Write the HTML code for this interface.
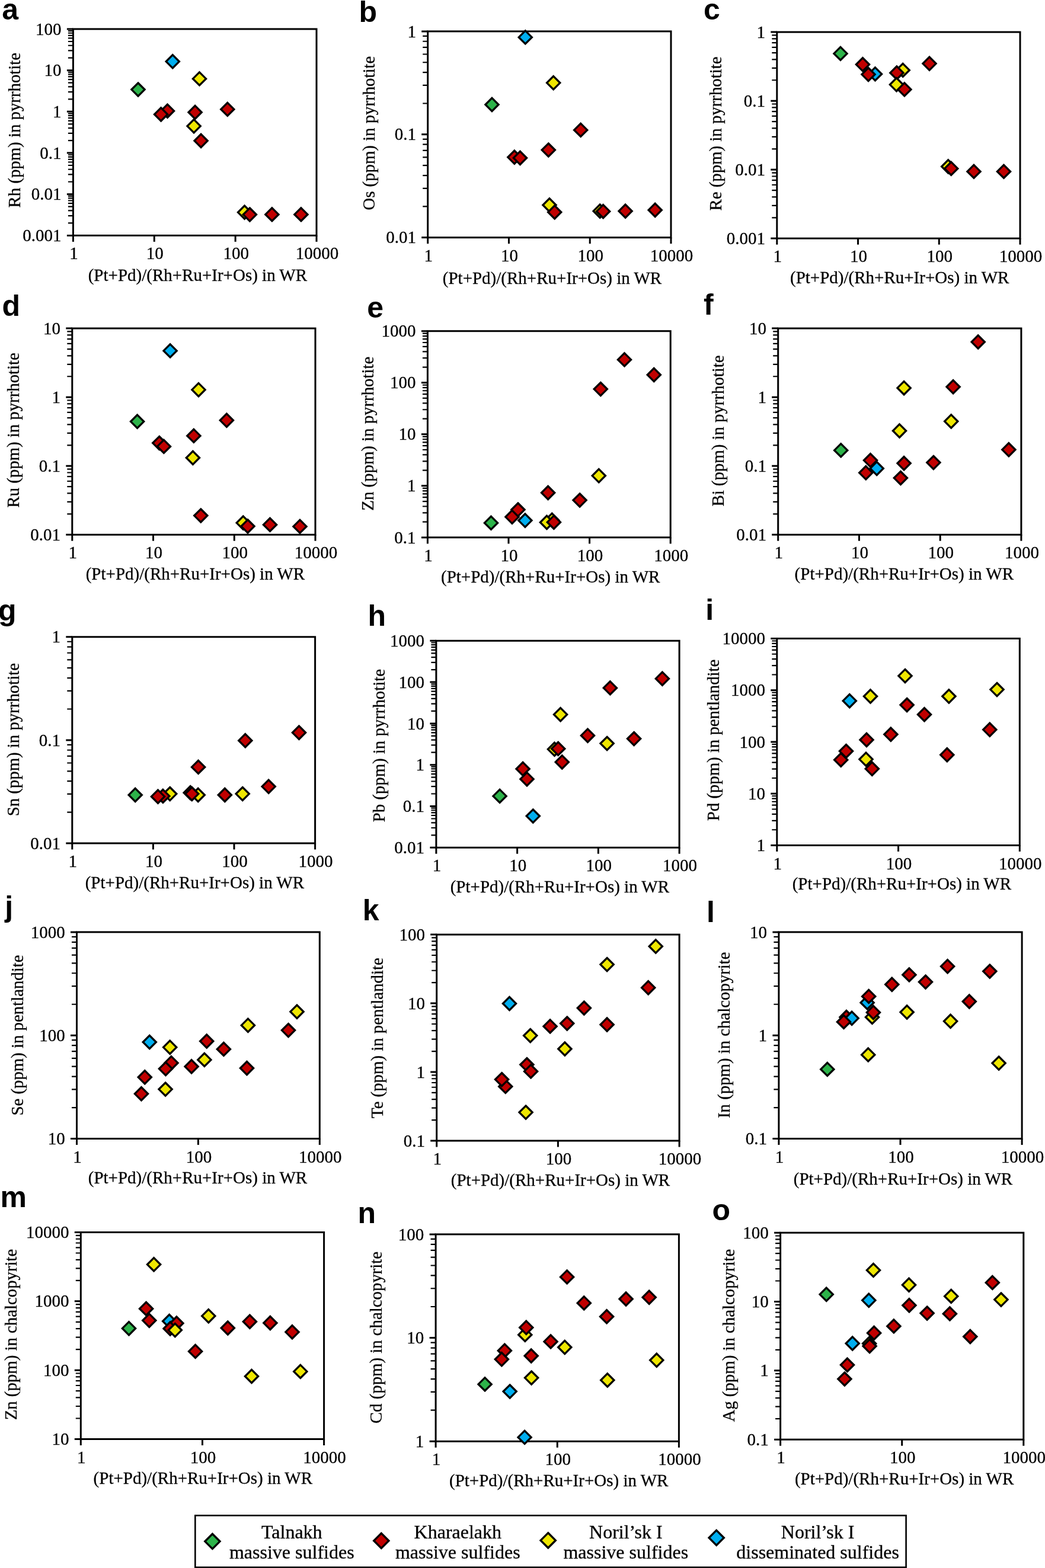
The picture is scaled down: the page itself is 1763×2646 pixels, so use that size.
<!DOCTYPE html>
<html><head><meta charset="utf-8"><title>Figure</title>
<style>
html,body{margin:0;padding:0;background:#fff;}
body{width:1763px;height:2646px;overflow:hidden;}
svg{display:block;}
.t{font-family:"Liberation Serif","Times New Roman",serif;font-size:29px;fill:#000;stroke:#000;stroke-width:0.3px;}
.tt{font-family:"Liberation Serif","Times New Roman",serif;font-size:28.8px;fill:#000;stroke:#000;stroke-width:0.3px;}
.tx{font-family:"Liberation Serif","Times New Roman",serif;font-size:29px;fill:#000;stroke:#000;stroke-width:0.3px;}
.lg{font-family:"Liberation Serif","Times New Roman",serif;font-size:32px;fill:#000;stroke:#000;stroke-width:0.3px;}
.lab{font-family:"Liberation Sans",Arial,sans-serif;font-weight:bold;font-size:50px;fill:#000;}
</style></head><body>
<svg width="1763" height="2646" viewBox="0 0 1763 2646">
<rect width="100%" height="100%" fill="#fff"/>
<path d="M114.9 97.7H123.4M114.9 85.43H123.4M114.9 76.73H123.4M114.9 69.98H123.4M114.9 64.46H123.4M114.9 59.79H123.4M114.9 55.75H123.4M114.9 52.19H123.4M114.9 167.38H123.4M114.9 155.11H123.4M114.9 146.41H123.4M114.9 139.66H123.4M114.9 134.14H123.4M114.9 129.47H123.4M114.9 125.43H123.4M114.9 121.87H123.4M114.9 237.06H123.4M114.9 224.79H123.4M114.9 216.09H123.4M114.9 209.34H123.4M114.9 203.82H123.4M114.9 199.15H123.4M114.9 195.11H123.4M114.9 191.55H123.4M114.9 306.74H123.4M114.9 294.47H123.4M114.9 285.77H123.4M114.9 279.02H123.4M114.9 273.5H123.4M114.9 268.83H123.4M114.9 264.79H123.4M114.9 261.23H123.4M114.9 376.42H123.4M114.9 364.15H123.4M114.9 355.45H123.4M114.9 348.7H123.4M114.9 343.18H123.4M114.9 338.51H123.4M114.9 334.47H123.4M114.9 330.91H123.4" stroke="#000" stroke-width="2.2"/>
<path d="M112.9 49H123.4M112.9 118.68H123.4M112.9 188.36H123.4M112.9 258.04H123.4M112.9 327.72H123.4M112.9 397.4H123.4" stroke="#000" stroke-width="3.0"/>
<path d="M123.4 397.4V407.9M260.27 397.4V407.9M397.13 397.4V407.9M534 397.4V407.9" stroke="#000" stroke-width="3.0"/>
<rect x="123.4" y="49" width="410.6" height="348.4" fill="none" stroke="#000" stroke-width="3.0"/>
<text class="t" x="103.6" y="58.6" text-anchor="end">100</text>
<text class="t" x="103.6" y="128.28" text-anchor="end">10</text>
<text class="t" x="103.6" y="197.96" text-anchor="end">1</text>
<text class="t" x="103.6" y="267.64" text-anchor="end">0.1</text>
<text class="t" x="103.6" y="337.32" text-anchor="end">0.01</text>
<text class="t" x="103.6" y="407" text-anchor="end">0.001</text>
<text class="t" x="124.4" y="437.4" text-anchor="middle">1</text>
<text class="t" x="261.27" y="437.4" text-anchor="middle">10</text>
<text class="t" x="398.13" y="437.4" text-anchor="middle">100</text>
<text class="t" x="535" y="437.4" text-anchor="middle">10000</text>
<text class="tx" x="148.7" y="473.9">(Pt+Pd)/(Rh+Ru+Ir+Os) in WR</text>
<text class="tt" transform="translate(34 219.7) rotate(-90)" text-anchor="middle">Rh (ppm) in pyrrhotite</text>
<path d="M291.3 92.7L302.4 103.8L291.3 114.9L280.2 103.8Z" fill="#00aeef" stroke="#000" stroke-width="3.3" stroke-linejoin="miter"/>
<path d="M336.5 121.8L347.6 132.9L336.5 144L325.4 132.9Z" fill="#eee600" stroke="#000" stroke-width="3.3" stroke-linejoin="miter"/>
<path d="M233 140L244.1 151.1L233 162.2L221.9 151.1Z" fill="#2db34a" stroke="#000" stroke-width="3.3" stroke-linejoin="miter"/>
<path d="M282.5 176.1L293.6 187.2L282.5 198.3L271.4 187.2Z" fill="#c00000" stroke="#000" stroke-width="3.3" stroke-linejoin="miter"/>
<path d="M271.6 181.9L282.7 193L271.6 204.1L260.5 193Z" fill="#c00000" stroke="#000" stroke-width="3.3" stroke-linejoin="miter"/>
<path d="M329.1 178.4L340.2 189.5L329.1 200.6L318 189.5Z" fill="#c00000" stroke="#000" stroke-width="3.3" stroke-linejoin="miter"/>
<path d="M383.8 173.3L394.9 184.4L383.8 195.5L372.7 184.4Z" fill="#c00000" stroke="#000" stroke-width="3.3" stroke-linejoin="miter"/>
<path d="M327.1 201.7L338.2 212.8L327.1 223.9L316 212.8Z" fill="#eee600" stroke="#000" stroke-width="3.3" stroke-linejoin="miter"/>
<path d="M339.1 226.4L350.2 237.5L339.1 248.6L328 237.5Z" fill="#c00000" stroke="#000" stroke-width="3.3" stroke-linejoin="miter"/>
<path d="M412.6 347.2L423.7 358.3L412.6 369.4L401.5 358.3Z" fill="#eee600" stroke="#000" stroke-width="3.3" stroke-linejoin="miter"/>
<path d="M421.4 351L432.5 362.1L421.4 373.2L410.3 362.1Z" fill="#c00000" stroke="#000" stroke-width="3.3" stroke-linejoin="miter"/>
<path d="M458.9 350.8L470 361.9L458.9 373L447.8 361.9Z" fill="#c00000" stroke="#000" stroke-width="3.3" stroke-linejoin="miter"/>
<path d="M507.9 350.8L519 361.9L507.9 373L496.8 361.9Z" fill="#c00000" stroke="#000" stroke-width="3.3" stroke-linejoin="miter"/>
<text class="lab" transform="translate(3.2 32.9) scale(1 1)">a</text>
<path d="M713.2 174.49H721.7M713.2 143.85H721.7M713.2 122.12H721.7M713.2 105.26H721.7M713.2 91.49H721.7M713.2 79.85H721.7M713.2 69.76H721.7M713.2 60.86H721.7M713.2 348.44H721.7M713.2 317.8H721.7M713.2 296.07H721.7M713.2 279.21H721.7M713.2 265.44H721.7M713.2 253.8H721.7M713.2 243.71H721.7M713.2 234.81H721.7" stroke="#000" stroke-width="2.2"/>
<path d="M711.2 52.9H721.7M711.2 226.85H721.7M711.2 400.8H721.7" stroke="#000" stroke-width="3.0"/>
<path d="M721.7 400.8V411.3M858.47 400.8V411.3M995.23 400.8V411.3M1132 400.8V411.3" stroke="#000" stroke-width="3.0"/>
<rect x="721.7" y="52.9" width="410.3" height="347.9" fill="none" stroke="#000" stroke-width="3.0"/>
<text class="t" x="701.9" y="62.5" text-anchor="end">1</text>
<text class="t" x="701.9" y="236.45" text-anchor="end">0.1</text>
<text class="t" x="701.9" y="410.4" text-anchor="end">0.01</text>
<text class="t" x="722.7" y="440.8" text-anchor="middle">1</text>
<text class="t" x="859.47" y="440.8" text-anchor="middle">10</text>
<text class="t" x="996.23" y="440.8" text-anchor="middle">100</text>
<text class="t" x="1133" y="440.8" text-anchor="middle">10000</text>
<text class="tx" x="746.8" y="478.9">(Pt+Pd)/(Rh+Ru+Ir+Os) in WR</text>
<text class="tt" transform="translate(631.5 224.7) rotate(-90)" text-anchor="middle">Os (ppm) in pyrrhotite</text>
<path d="M886.3 51.8L897.4 62.9L886.3 74L875.2 62.9Z" fill="#00aeef" stroke="#000" stroke-width="3.3" stroke-linejoin="miter"/>
<path d="M933.7 128.7L944.8 139.8L933.7 150.9L922.6 139.8Z" fill="#eee600" stroke="#000" stroke-width="3.3" stroke-linejoin="miter"/>
<path d="M830 165.4L841.1 176.5L830 187.6L818.9 176.5Z" fill="#2db34a" stroke="#000" stroke-width="3.3" stroke-linejoin="miter"/>
<path d="M979.7 208.3L990.8 219.4L979.7 230.5L968.6 219.4Z" fill="#c00000" stroke="#000" stroke-width="3.3" stroke-linejoin="miter"/>
<path d="M925.3 242L936.4 253.1L925.3 264.2L914.2 253.1Z" fill="#c00000" stroke="#000" stroke-width="3.3" stroke-linejoin="miter"/>
<path d="M867.9 254.2L879 265.3L867.9 276.4L856.8 265.3Z" fill="#c00000" stroke="#000" stroke-width="3.3" stroke-linejoin="miter"/>
<path d="M877.5 255.4L888.6 266.5L877.5 277.6L866.4 266.5Z" fill="#c00000" stroke="#000" stroke-width="3.3" stroke-linejoin="miter"/>
<path d="M927 334.9L938.1 346L927 357.1L915.9 346Z" fill="#eee600" stroke="#000" stroke-width="3.3" stroke-linejoin="miter"/>
<path d="M935.7 346.9L946.8 358L935.7 369.1L924.6 358Z" fill="#c00000" stroke="#000" stroke-width="3.3" stroke-linejoin="miter"/>
<path d="M1012.2 345.1L1023.3 356.2L1012.2 367.3L1001.1 356.2Z" fill="#eee600" stroke="#000" stroke-width="3.3" stroke-linejoin="miter"/>
<path d="M1017.6 345.6L1028.7 356.7L1017.6 367.8L1006.5 356.7Z" fill="#c00000" stroke="#000" stroke-width="3.3" stroke-linejoin="miter"/>
<path d="M1055.1 345.1L1066.2 356.2L1055.1 367.3L1044 356.2Z" fill="#c00000" stroke="#000" stroke-width="3.3" stroke-linejoin="miter"/>
<path d="M1105.2 343.4L1116.3 354.5L1105.2 365.6L1094.1 354.5Z" fill="#c00000" stroke="#000" stroke-width="3.3" stroke-linejoin="miter"/>
<text class="lab" transform="translate(605.4 36.7) scale(1 1)">b</text>
<path d="M1302.3 135.23H1310.8M1302.3 114.79H1310.8M1302.3 100.29H1310.8M1302.3 89.04H1310.8M1302.3 79.85H1310.8M1302.3 72.08H1310.8M1302.3 65.35H1310.8M1302.3 59.41H1310.8M1302.3 251.29H1310.8M1302.3 230.86H1310.8M1302.3 216.35H1310.8M1302.3 205.11H1310.8M1302.3 195.92H1310.8M1302.3 188.15H1310.8M1302.3 181.41H1310.8M1302.3 175.48H1310.8M1302.3 367.36H1310.8M1302.3 346.92H1310.8M1302.3 332.42H1310.8M1302.3 321.17H1310.8M1302.3 311.98H1310.8M1302.3 304.21H1310.8M1302.3 297.48H1310.8M1302.3 291.54H1310.8" stroke="#000" stroke-width="2.2"/>
<path d="M1300.3 54.1H1310.8M1300.3 170.17H1310.8M1300.3 286.23H1310.8M1300.3 402.3H1310.8" stroke="#000" stroke-width="3.0"/>
<path d="M1310.8 402.3V412.8M1447.53 402.3V412.8M1584.27 402.3V412.8M1721 402.3V412.8" stroke="#000" stroke-width="3.0"/>
<rect x="1310.8" y="54.1" width="410.2" height="348.2" fill="none" stroke="#000" stroke-width="3.0"/>
<text class="t" x="1291" y="63.7" text-anchor="end">1</text>
<text class="t" x="1291" y="179.77" text-anchor="end">0.1</text>
<text class="t" x="1291" y="295.83" text-anchor="end">0.01</text>
<text class="t" x="1291" y="411.9" text-anchor="end">0.001</text>
<text class="t" x="1311.8" y="442.3" text-anchor="middle">1</text>
<text class="t" x="1448.53" y="442.3" text-anchor="middle">10</text>
<text class="t" x="1585.27" y="442.3" text-anchor="middle">100</text>
<text class="t" x="1722" y="442.3" text-anchor="middle">10000</text>
<text class="tx" x="1333" y="477.7">(Pt+Pd)/(Rh+Ru+Ir+Os) in WR</text>
<text class="tt" transform="translate(1216.7 225.5) rotate(-90)" text-anchor="middle">Re (ppm) in pyrrhotite</text>
<path d="M1418 79.3L1429.1 90.4L1418 101.5L1406.9 90.4Z" fill="#2db34a" stroke="#000" stroke-width="3.3" stroke-linejoin="miter"/>
<path d="M1455.5 97.7L1466.6 108.8L1455.5 119.9L1444.4 108.8Z" fill="#c00000" stroke="#000" stroke-width="3.3" stroke-linejoin="miter"/>
<path d="M1568 96.2L1579.1 107.3L1568 118.4L1556.9 107.3Z" fill="#c00000" stroke="#000" stroke-width="3.3" stroke-linejoin="miter"/>
<path d="M1523.2 107.3L1534.3 118.4L1523.2 129.5L1512.1 118.4Z" fill="#eee600" stroke="#000" stroke-width="3.3" stroke-linejoin="miter"/>
<path d="M1512.9 111.8L1524 122.9L1512.9 134L1501.8 122.9Z" fill="#c00000" stroke="#000" stroke-width="3.3" stroke-linejoin="miter"/>
<path d="M1476.5 113.8L1487.6 124.9L1476.5 136L1465.4 124.9Z" fill="#00aeef" stroke="#000" stroke-width="3.3" stroke-linejoin="miter"/>
<path d="M1465 114.5L1476.1 125.6L1465 136.7L1453.9 125.6Z" fill="#c00000" stroke="#000" stroke-width="3.3" stroke-linejoin="miter"/>
<path d="M1512.5 131.7L1523.6 142.8L1512.5 153.9L1501.4 142.8Z" fill="#eee600" stroke="#000" stroke-width="3.3" stroke-linejoin="miter"/>
<path d="M1525.9 139.8L1537 150.9L1525.9 162L1514.8 150.9Z" fill="#c00000" stroke="#000" stroke-width="3.3" stroke-linejoin="miter"/>
<path d="M1599.7 269.9L1610.8 281L1599.7 292.1L1588.6 281Z" fill="#eee600" stroke="#000" stroke-width="3.3" stroke-linejoin="miter"/>
<path d="M1604.7 273.3L1615.8 284.4L1604.7 295.5L1593.6 284.4Z" fill="#c00000" stroke="#000" stroke-width="3.3" stroke-linejoin="miter"/>
<path d="M1643 278.3L1654.1 289.4L1643 300.5L1631.9 289.4Z" fill="#c00000" stroke="#000" stroke-width="3.3" stroke-linejoin="miter"/>
<path d="M1693.5 278.3L1704.6 289.4L1693.5 300.5L1682.4 289.4Z" fill="#c00000" stroke="#000" stroke-width="3.3" stroke-linejoin="miter"/>
<text class="lab" transform="translate(1187 32.9) scale(1 1)">c</text>
<path d="M113.3 635.23H121.8M113.3 614.79H121.8M113.3 600.29H121.8M113.3 589.04H121.8M113.3 579.85H121.8M113.3 572.08H121.8M113.3 565.35H121.8M113.3 559.41H121.8M113.3 751.29H121.8M113.3 730.86H121.8M113.3 716.35H121.8M113.3 705.11H121.8M113.3 695.92H121.8M113.3 688.15H121.8M113.3 681.41H121.8M113.3 675.48H121.8M113.3 867.36H121.8M113.3 846.92H121.8M113.3 832.42H121.8M113.3 821.17H121.8M113.3 811.98H121.8M113.3 804.21H121.8M113.3 797.48H121.8M113.3 791.54H121.8" stroke="#000" stroke-width="2.2"/>
<path d="M111.3 554.1H121.8M111.3 670.17H121.8M111.3 786.23H121.8M111.3 902.3H121.8" stroke="#000" stroke-width="3.0"/>
<path d="M121.8 902.3V912.8M258.53 902.3V912.8M395.27 902.3V912.8M532 902.3V912.8" stroke="#000" stroke-width="3.0"/>
<rect x="121.8" y="554.1" width="410.2" height="348.2" fill="none" stroke="#000" stroke-width="3.0"/>
<text class="t" x="102" y="563.7" text-anchor="end">10</text>
<text class="t" x="102" y="679.77" text-anchor="end">1</text>
<text class="t" x="102" y="795.83" text-anchor="end">0.1</text>
<text class="t" x="102" y="911.9" text-anchor="end">0.01</text>
<text class="t" x="122.8" y="942.3" text-anchor="middle">1</text>
<text class="t" x="259.53" y="942.3" text-anchor="middle">10</text>
<text class="t" x="396.27" y="942.3" text-anchor="middle">100</text>
<text class="t" x="533" y="942.3" text-anchor="middle">10000</text>
<text class="tx" x="144.7" y="977.7">(Pt+Pd)/(Rh+Ru+Ir+Os) in WR</text>
<text class="tt" transform="translate(32.4 725.9) rotate(-90)" text-anchor="middle">Ru (ppm) in pyrrhotite</text>
<path d="M287.1 580.8L298.2 591.9L287.1 603L276 591.9Z" fill="#00aeef" stroke="#000" stroke-width="3.3" stroke-linejoin="miter"/>
<path d="M335 646.6L346.1 657.7L335 668.8L323.9 657.7Z" fill="#eee600" stroke="#000" stroke-width="3.3" stroke-linejoin="miter"/>
<path d="M231.6 700.2L242.7 711.3L231.6 722.4L220.5 711.3Z" fill="#2db34a" stroke="#000" stroke-width="3.3" stroke-linejoin="miter"/>
<path d="M382.4 698.2L393.5 709.3L382.4 720.4L371.3 709.3Z" fill="#c00000" stroke="#000" stroke-width="3.3" stroke-linejoin="miter"/>
<path d="M326.9 724.3L338 735.4L326.9 746.5L315.8 735.4Z" fill="#c00000" stroke="#000" stroke-width="3.3" stroke-linejoin="miter"/>
<path d="M268.8 736.5L279.9 747.6L268.8 758.7L257.7 747.6Z" fill="#c00000" stroke="#000" stroke-width="3.3" stroke-linejoin="miter"/>
<path d="M276.4 742.3L287.5 753.4L276.4 764.5L265.3 753.4Z" fill="#c00000" stroke="#000" stroke-width="3.3" stroke-linejoin="miter"/>
<path d="M325.4 761.4L336.5 772.5L325.4 783.6L314.3 772.5Z" fill="#eee600" stroke="#000" stroke-width="3.3" stroke-linejoin="miter"/>
<path d="M338.8 859L349.9 870.1L338.8 881.2L327.7 870.1Z" fill="#c00000" stroke="#000" stroke-width="3.3" stroke-linejoin="miter"/>
<path d="M410.3 871.2L421.4 882.3L410.3 893.4L399.2 882.3Z" fill="#eee600" stroke="#000" stroke-width="3.3" stroke-linejoin="miter"/>
<path d="M418 877L429.1 888.1L418 899.2L406.9 888.1Z" fill="#c00000" stroke="#000" stroke-width="3.3" stroke-linejoin="miter"/>
<path d="M455.5 874.3L466.6 885.4L455.5 896.5L444.4 885.4Z" fill="#c00000" stroke="#000" stroke-width="3.3" stroke-linejoin="miter"/>
<path d="M506 877.3L517.1 888.4L506 899.5L494.9 888.4Z" fill="#c00000" stroke="#000" stroke-width="3.3" stroke-linejoin="miter"/>
<text class="lab" transform="translate(3.4 532.5) scale(1 1)">d</text>
<path d="M712.9 619.55H721.4M712.9 604.22H721.4M712.9 593.34H721.4M712.9 584.9H721.4M712.9 578.01H721.4M712.9 572.18H721.4M712.9 567.14H721.4M712.9 562.68H721.4M712.9 706.6H721.4M712.9 691.27H721.4M712.9 680.39H721.4M712.9 671.95H721.4M712.9 665.06H721.4M712.9 659.23H721.4M712.9 654.19H721.4M712.9 649.73H721.4M712.9 793.65H721.4M712.9 778.32H721.4M712.9 767.44H721.4M712.9 759H721.4M712.9 752.11H721.4M712.9 746.28H721.4M712.9 741.24H721.4M712.9 736.78H721.4M712.9 880.7H721.4M712.9 865.37H721.4M712.9 854.49H721.4M712.9 846.05H721.4M712.9 839.16H721.4M712.9 833.33H721.4M712.9 828.29H721.4M712.9 823.83H721.4" stroke="#000" stroke-width="2.2"/>
<path d="M710.9 558.7H721.4M710.9 645.75H721.4M710.9 732.8H721.4M710.9 819.85H721.4M710.9 906.9H721.4" stroke="#000" stroke-width="3.0"/>
<path d="M721.4 906.9V917.4M858 906.9V917.4M994.6 906.9V917.4M1131.2 906.9V917.4" stroke="#000" stroke-width="3.0"/>
<rect x="721.4" y="558.7" width="409.8" height="348.2" fill="none" stroke="#000" stroke-width="3.0"/>
<text class="t" x="701.6" y="568.3" text-anchor="end">1000</text>
<text class="t" x="701.6" y="655.35" text-anchor="end">100</text>
<text class="t" x="701.6" y="742.4" text-anchor="end">10</text>
<text class="t" x="701.6" y="829.45" text-anchor="end">1</text>
<text class="t" x="701.6" y="916.5" text-anchor="end">0.1</text>
<text class="t" x="722.4" y="946.9" text-anchor="middle">1</text>
<text class="t" x="859" y="946.9" text-anchor="middle">10</text>
<text class="t" x="995.6" y="946.9" text-anchor="middle">100</text>
<text class="t" x="1132.2" y="946.9" text-anchor="middle">1000</text>
<text class="tx" x="744" y="982.5">(Pt+Pd)/(Rh+Ru+Ir+Os) in WR</text>
<text class="tt" transform="translate(630.1 731.7) rotate(-90)" text-anchor="middle">Zn (ppm) in pyrrhotite</text>
<path d="M1053.5 595.8L1064.6 606.9L1053.5 618L1042.4 606.9Z" fill="#c00000" stroke="#000" stroke-width="3.3" stroke-linejoin="miter"/>
<path d="M1103.3 621.4L1114.4 632.5L1103.3 643.6L1092.2 632.5Z" fill="#c00000" stroke="#000" stroke-width="3.3" stroke-linejoin="miter"/>
<path d="M1013.3 645.5L1024.4 656.6L1013.3 667.7L1002.2 656.6Z" fill="#c00000" stroke="#000" stroke-width="3.3" stroke-linejoin="miter"/>
<path d="M1010.3 791.7L1021.4 802.8L1010.3 813.9L999.2 802.8Z" fill="#eee600" stroke="#000" stroke-width="3.3" stroke-linejoin="miter"/>
<path d="M924.6 820.4L935.7 831.5L924.6 842.6L913.5 831.5Z" fill="#c00000" stroke="#000" stroke-width="3.3" stroke-linejoin="miter"/>
<path d="M978.1 833L989.2 844.1L978.1 855.2L967 844.1Z" fill="#c00000" stroke="#000" stroke-width="3.3" stroke-linejoin="miter"/>
<path d="M864 861.2L875.1 872.3L864 883.4L852.9 872.3Z" fill="#c00000" stroke="#000" stroke-width="3.3" stroke-linejoin="miter"/>
<path d="M873.9 849L885 860.1L873.9 871.2L862.8 860.1Z" fill="#c00000" stroke="#000" stroke-width="3.3" stroke-linejoin="miter"/>
<path d="M885.9 867.2L897 878.3L885.9 889.4L874.8 878.3Z" fill="#00aeef" stroke="#000" stroke-width="3.3" stroke-linejoin="miter"/>
<path d="M828.5 871.3L839.6 882.4L828.5 893.5L817.4 882.4Z" fill="#2db34a" stroke="#000" stroke-width="3.3" stroke-linejoin="miter"/>
<path d="M931.3 866.3L942.4 877.4L931.3 888.5L920.2 877.4Z" fill="#eee600" stroke="#000" stroke-width="3.3" stroke-linejoin="miter"/>
<path d="M922.5 870.4L933.6 881.5L922.5 892.6L911.4 881.5Z" fill="#eee600" stroke="#000" stroke-width="3.3" stroke-linejoin="miter"/>
<path d="M934.4 870.1L945.5 881.2L934.4 892.3L923.3 881.2Z" fill="#c00000" stroke="#000" stroke-width="3.3" stroke-linejoin="miter"/>
<text class="lab" transform="translate(619.2 536.4) scale(1 1)">e</text>
<path d="M1304.2 635.23H1312.7M1304.2 614.79H1312.7M1304.2 600.29H1312.7M1304.2 589.04H1312.7M1304.2 579.85H1312.7M1304.2 572.08H1312.7M1304.2 565.35H1312.7M1304.2 559.41H1312.7M1304.2 751.29H1312.7M1304.2 730.86H1312.7M1304.2 716.35H1312.7M1304.2 705.11H1312.7M1304.2 695.92H1312.7M1304.2 688.15H1312.7M1304.2 681.41H1312.7M1304.2 675.48H1312.7M1304.2 867.36H1312.7M1304.2 846.92H1312.7M1304.2 832.42H1312.7M1304.2 821.17H1312.7M1304.2 811.98H1312.7M1304.2 804.21H1312.7M1304.2 797.48H1312.7M1304.2 791.54H1312.7" stroke="#000" stroke-width="2.2"/>
<path d="M1302.2 554.1H1312.7M1302.2 670.17H1312.7M1302.2 786.23H1312.7M1302.2 902.3H1312.7" stroke="#000" stroke-width="3.0"/>
<path d="M1312.7 902.3V912.8M1449.43 902.3V912.8M1586.17 902.3V912.8M1722.9 902.3V912.8" stroke="#000" stroke-width="3.0"/>
<rect x="1312.7" y="554.1" width="410.2" height="348.2" fill="none" stroke="#000" stroke-width="3.0"/>
<text class="t" x="1292.9" y="563.7" text-anchor="end">10</text>
<text class="t" x="1292.9" y="679.77" text-anchor="end">1</text>
<text class="t" x="1292.9" y="795.83" text-anchor="end">0.1</text>
<text class="t" x="1292.9" y="911.9" text-anchor="end">0.01</text>
<text class="t" x="1313.7" y="942.3" text-anchor="middle">1</text>
<text class="t" x="1450.43" y="942.3" text-anchor="middle">10</text>
<text class="t" x="1587.17" y="942.3" text-anchor="middle">100</text>
<text class="t" x="1723.9" y="942.3" text-anchor="middle">1000</text>
<text class="tx" x="1340.6" y="977.7">(Pt+Pd)/(Rh+Ru+Ir+Os) in WR</text>
<text class="tt" transform="translate(1221 727) rotate(-90)" text-anchor="middle">Bi (ppm) in pyrrhotite</text>
<path d="M1650.2 565.9L1661.3 577L1650.2 588.1L1639.1 577Z" fill="#c00000" stroke="#000" stroke-width="3.3" stroke-linejoin="miter"/>
<path d="M1525.1 643.6L1536.2 654.7L1525.1 665.8L1514 654.7Z" fill="#eee600" stroke="#000" stroke-width="3.3" stroke-linejoin="miter"/>
<path d="M1608.1 641.7L1619.2 652.8L1608.1 663.9L1597 652.8Z" fill="#c00000" stroke="#000" stroke-width="3.3" stroke-linejoin="miter"/>
<path d="M1604.7 699.9L1615.8 711L1604.7 722.1L1593.6 711Z" fill="#eee600" stroke="#000" stroke-width="3.3" stroke-linejoin="miter"/>
<path d="M1517.5 715.9L1528.6 727L1517.5 738.1L1506.4 727Z" fill="#eee600" stroke="#000" stroke-width="3.3" stroke-linejoin="miter"/>
<path d="M1418.7 748.8L1429.8 759.9L1418.7 771L1407.6 759.9Z" fill="#2db34a" stroke="#000" stroke-width="3.3" stroke-linejoin="miter"/>
<path d="M1701.9 747.7L1713 758.8L1701.9 769.9L1690.8 758.8Z" fill="#c00000" stroke="#000" stroke-width="3.3" stroke-linejoin="miter"/>
<path d="M1468.5 765.7L1479.6 776.8L1468.5 787.9L1457.4 776.8Z" fill="#c00000" stroke="#000" stroke-width="3.3" stroke-linejoin="miter"/>
<path d="M1525.1 770.7L1536.2 781.8L1525.1 792.9L1514 781.8Z" fill="#c00000" stroke="#000" stroke-width="3.3" stroke-linejoin="miter"/>
<path d="M1574.9 769.5L1586 780.6L1574.9 791.7L1563.8 780.6Z" fill="#c00000" stroke="#000" stroke-width="3.3" stroke-linejoin="miter"/>
<path d="M1479.2 779.4L1490.3 790.5L1479.2 801.6L1468.1 790.5Z" fill="#00aeef" stroke="#000" stroke-width="3.3" stroke-linejoin="miter"/>
<path d="M1460.8 786.7L1471.9 797.8L1460.8 808.9L1449.7 797.8Z" fill="#c00000" stroke="#000" stroke-width="3.3" stroke-linejoin="miter"/>
<path d="M1519.4 795.5L1530.5 806.6L1519.4 817.7L1508.3 806.6Z" fill="#c00000" stroke="#000" stroke-width="3.3" stroke-linejoin="miter"/>
<text class="lab" transform="translate(1187 530.6) scale(1 1)">f</text>
<path d="M113.3 1196.49H121.8M113.3 1165.83H121.8M113.3 1144.08H121.8M113.3 1127.21H121.8M113.3 1113.42H121.8M113.3 1101.77H121.8M113.3 1091.67H121.8M113.3 1082.77H121.8M113.3 1370.59H121.8M113.3 1339.93H121.8M113.3 1318.18H121.8M113.3 1301.31H121.8M113.3 1287.52H121.8M113.3 1275.87H121.8M113.3 1265.77H121.8M113.3 1256.87H121.8" stroke="#000" stroke-width="2.2"/>
<path d="M111.3 1074.8H121.8M111.3 1248.9H121.8M111.3 1423H121.8" stroke="#000" stroke-width="3.0"/>
<path d="M121.8 1423V1433.5M258.4 1423V1433.5M395 1423V1433.5M531.6 1423V1433.5" stroke="#000" stroke-width="3.0"/>
<rect x="121.8" y="1074.8" width="409.8" height="348.2" fill="none" stroke="#000" stroke-width="3.0"/>
<text class="t" x="102" y="1084.4" text-anchor="end">1</text>
<text class="t" x="102" y="1258.5" text-anchor="end">0.1</text>
<text class="t" x="102" y="1432.6" text-anchor="end">0.01</text>
<text class="t" x="122.8" y="1463" text-anchor="middle">1</text>
<text class="t" x="259.4" y="1463" text-anchor="middle">10</text>
<text class="t" x="396" y="1463" text-anchor="middle">100</text>
<text class="t" x="532.6" y="1463" text-anchor="middle">1000</text>
<text class="tx" x="143.7" y="1498.7">(Pt+Pd)/(Rh+Ru+Ir+Os) in WR</text>
<text class="tt" transform="translate(32.4 1248.2) rotate(-90)" text-anchor="middle">Sn (ppm) in pyrrhotite</text>
<path d="M504.5 1225.2L515.6 1236.3L504.5 1247.4L493.4 1236.3Z" fill="#c00000" stroke="#000" stroke-width="3.3" stroke-linejoin="miter"/>
<path d="M413.8 1238.6L424.9 1249.7L413.8 1260.8L402.7 1249.7Z" fill="#c00000" stroke="#000" stroke-width="3.3" stroke-linejoin="miter"/>
<path d="M334.6 1283.3L345.7 1294.4L334.6 1305.5L323.5 1294.4Z" fill="#c00000" stroke="#000" stroke-width="3.3" stroke-linejoin="miter"/>
<path d="M453.2 1316.2L464.3 1327.3L453.2 1338.4L442.1 1327.3Z" fill="#c00000" stroke="#000" stroke-width="3.3" stroke-linejoin="miter"/>
<path d="M228.2 1330.4L239.3 1341.5L228.2 1352.6L217.1 1341.5Z" fill="#2db34a" stroke="#000" stroke-width="3.3" stroke-linejoin="miter"/>
<path d="M286.7 1328.5L297.8 1339.6L286.7 1350.7L275.6 1339.6Z" fill="#eee600" stroke="#000" stroke-width="3.3" stroke-linejoin="miter"/>
<path d="M274.9 1332.3L286 1343.4L274.9 1354.5L263.8 1343.4Z" fill="#c00000" stroke="#000" stroke-width="3.3" stroke-linejoin="miter"/>
<path d="M266.5 1333.1L277.6 1344.2L266.5 1355.3L255.4 1344.2Z" fill="#c00000" stroke="#000" stroke-width="3.3" stroke-linejoin="miter"/>
<path d="M334.2 1330.4L345.3 1341.5L334.2 1352.6L323.1 1341.5Z" fill="#eee600" stroke="#000" stroke-width="3.3" stroke-linejoin="miter"/>
<path d="M321.2 1326.6L332.3 1337.7L321.2 1348.8L310.1 1337.7Z" fill="#c00000" stroke="#000" stroke-width="3.3" stroke-linejoin="miter"/>
<path d="M323.8 1328.5L334.9 1339.6L323.8 1350.7L312.7 1339.6Z" fill="#c00000" stroke="#000" stroke-width="3.3" stroke-linejoin="miter"/>
<path d="M379.3 1330.4L390.4 1341.5L379.3 1352.6L368.2 1341.5Z" fill="#c00000" stroke="#000" stroke-width="3.3" stroke-linejoin="miter"/>
<path d="M409.2 1328.5L420.3 1339.6L409.2 1350.7L398.1 1339.6Z" fill="#eee600" stroke="#000" stroke-width="3.3" stroke-linejoin="miter"/>
<text class="lab" transform="translate(-3 1046.6) scale(1 1)">g</text>
<path d="M727.4 1130.09H735.9M727.4 1117.8H735.9M727.4 1109.08H735.9M727.4 1102.31H735.9M727.4 1096.79H735.9M727.4 1092.11H735.9M727.4 1088.06H735.9M727.4 1084.49H735.9M727.4 1199.89H735.9M727.4 1187.6H735.9M727.4 1178.88H735.9M727.4 1172.11H735.9M727.4 1166.59H735.9M727.4 1161.91H735.9M727.4 1157.86H735.9M727.4 1154.29H735.9M727.4 1269.69H735.9M727.4 1257.4H735.9M727.4 1248.68H735.9M727.4 1241.91H735.9M727.4 1236.39H735.9M727.4 1231.71H735.9M727.4 1227.66H735.9M727.4 1224.09H735.9M727.4 1339.49H735.9M727.4 1327.2H735.9M727.4 1318.48H735.9M727.4 1311.71H735.9M727.4 1306.19H735.9M727.4 1301.51H735.9M727.4 1297.46H735.9M727.4 1293.89H735.9M727.4 1409.29H735.9M727.4 1397H735.9M727.4 1388.28H735.9M727.4 1381.51H735.9M727.4 1375.99H735.9M727.4 1371.31H735.9M727.4 1367.26H735.9M727.4 1363.69H735.9" stroke="#000" stroke-width="2.2"/>
<path d="M725.4 1081.3H735.9M725.4 1151.1H735.9M725.4 1220.9H735.9M725.4 1290.7H735.9M725.4 1360.5H735.9M725.4 1430.3H735.9" stroke="#000" stroke-width="3.0"/>
<path d="M735.9 1430.3V1440.8M872.63 1430.3V1440.8M1009.37 1430.3V1440.8M1146.1 1430.3V1440.8" stroke="#000" stroke-width="3.0"/>
<rect x="735.9" y="1081.3" width="410.2" height="349" fill="none" stroke="#000" stroke-width="3.0"/>
<text class="t" x="716.1" y="1090.9" text-anchor="end">1000</text>
<text class="t" x="716.1" y="1160.7" text-anchor="end">100</text>
<text class="t" x="716.1" y="1230.5" text-anchor="end">10</text>
<text class="t" x="716.1" y="1300.3" text-anchor="end">1</text>
<text class="t" x="716.1" y="1370.1" text-anchor="end">0.1</text>
<text class="t" x="716.1" y="1439.9" text-anchor="end">0.01</text>
<text class="t" x="736.9" y="1470.3" text-anchor="middle">1</text>
<text class="t" x="873.63" y="1470.3" text-anchor="middle">10</text>
<text class="t" x="1010.37" y="1470.3" text-anchor="middle">100</text>
<text class="t" x="1147.1" y="1470.3" text-anchor="middle">1000</text>
<text class="tx" x="759.7" y="1505.5">(Pt+Pd)/(Rh+Ru+Ir+Os) in WR</text>
<text class="tt" transform="translate(649.3 1258.2) rotate(-90)" text-anchor="middle">Pb (ppm) in pyrrhotite</text>
<path d="M1117.4 1134.1L1128.5 1145.2L1117.4 1156.3L1106.3 1145.2Z" fill="#c00000" stroke="#000" stroke-width="3.3" stroke-linejoin="miter"/>
<path d="M1029.4 1149.8L1040.5 1160.9L1029.4 1172L1018.3 1160.9Z" fill="#c00000" stroke="#000" stroke-width="3.3" stroke-linejoin="miter"/>
<path d="M945.6 1194.6L956.7 1205.7L945.6 1216.8L934.5 1205.7Z" fill="#eee600" stroke="#000" stroke-width="3.3" stroke-linejoin="miter"/>
<path d="M991.5 1230.1L1002.6 1241.2L991.5 1252.3L980.4 1241.2Z" fill="#c00000" stroke="#000" stroke-width="3.3" stroke-linejoin="miter"/>
<path d="M1069.6 1235.5L1080.7 1246.6L1069.6 1257.7L1058.5 1246.6Z" fill="#c00000" stroke="#000" stroke-width="3.3" stroke-linejoin="miter"/>
<path d="M1024.1 1243.5L1035.2 1254.6L1024.1 1265.7L1013 1254.6Z" fill="#eee600" stroke="#000" stroke-width="3.3" stroke-linejoin="miter"/>
<path d="M935.5 1253.2L946.6 1264.3L935.5 1275.4L924.4 1264.3Z" fill="#eee600" stroke="#000" stroke-width="3.3" stroke-linejoin="miter"/>
<path d="M941.7 1252.3L952.8 1263.4L941.7 1274.5L930.6 1263.4Z" fill="#c00000" stroke="#000" stroke-width="3.3" stroke-linejoin="miter"/>
<path d="M948.3 1274.9L959.4 1286L948.3 1297.1L937.2 1286Z" fill="#c00000" stroke="#000" stroke-width="3.3" stroke-linejoin="miter"/>
<path d="M882.1 1286.4L893.2 1297.5L882.1 1308.6L871 1297.5Z" fill="#c00000" stroke="#000" stroke-width="3.3" stroke-linejoin="miter"/>
<path d="M889 1303.6L900.1 1314.7L889 1325.8L877.9 1314.7Z" fill="#c00000" stroke="#000" stroke-width="3.3" stroke-linejoin="miter"/>
<path d="M843.1 1332.3L854.2 1343.4L843.1 1354.5L832 1343.4Z" fill="#2db34a" stroke="#000" stroke-width="3.3" stroke-linejoin="miter"/>
<path d="M899.3 1366L910.4 1377.1L899.3 1388.2L888.2 1377.1Z" fill="#00aeef" stroke="#000" stroke-width="3.3" stroke-linejoin="miter"/>
<text class="lab" transform="translate(620.4 1055.9) scale(1 1)">h</text>
<path d="M1302.3 1138.49H1310.8M1302.3 1123.12H1310.8M1302.3 1112.22H1310.8M1302.3 1103.76H1310.8M1302.3 1096.86H1310.8M1302.3 1091.02H1310.8M1302.3 1085.96H1310.8M1302.3 1081.49H1310.8M1302.3 1225.74H1310.8M1302.3 1210.37H1310.8M1302.3 1199.47H1310.8M1302.3 1191.01H1310.8M1302.3 1184.11H1310.8M1302.3 1178.27H1310.8M1302.3 1173.21H1310.8M1302.3 1168.74H1310.8M1302.3 1312.99H1310.8M1302.3 1297.62H1310.8M1302.3 1286.72H1310.8M1302.3 1278.26H1310.8M1302.3 1271.36H1310.8M1302.3 1265.52H1310.8M1302.3 1260.46H1310.8M1302.3 1255.99H1310.8M1302.3 1400.24H1310.8M1302.3 1384.87H1310.8M1302.3 1373.97H1310.8M1302.3 1365.51H1310.8M1302.3 1358.61H1310.8M1302.3 1352.77H1310.8M1302.3 1347.71H1310.8M1302.3 1343.24H1310.8" stroke="#000" stroke-width="2.2"/>
<path d="M1300.3 1077.5H1310.8M1300.3 1164.75H1310.8M1300.3 1252H1310.8M1300.3 1339.25H1310.8M1300.3 1426.5H1310.8" stroke="#000" stroke-width="3.0"/>
<path d="M1310.8 1426.5V1437M1515.55 1426.5V1437M1720.3 1426.5V1437" stroke="#000" stroke-width="3.0"/>
<rect x="1310.8" y="1077.5" width="409.5" height="349" fill="none" stroke="#000" stroke-width="3.0"/>
<text class="t" x="1291" y="1087.1" text-anchor="end">10000</text>
<text class="t" x="1291" y="1174.35" text-anchor="end">1000</text>
<text class="t" x="1291" y="1261.6" text-anchor="end">100</text>
<text class="t" x="1291" y="1348.85" text-anchor="end">10</text>
<text class="t" x="1291" y="1436.1" text-anchor="end">1</text>
<text class="t" x="1311.8" y="1466.5" text-anchor="middle">1</text>
<text class="t" x="1516.55" y="1466.5" text-anchor="middle">100</text>
<text class="t" x="1721.3" y="1466.5" text-anchor="middle">10000</text>
<text class="tx" x="1336.7" y="1501">(Pt+Pd)/(Rh+Ru+Ir+Os) in WR</text>
<text class="tt" transform="translate(1212.9 1249) rotate(-90)" text-anchor="middle">Pd (ppm) in pentlandite</text>
<path d="M1527 1129.5L1538.1 1140.6L1527 1151.7L1515.9 1140.6Z" fill="#eee600" stroke="#000" stroke-width="3.3" stroke-linejoin="miter"/>
<path d="M1682 1152.5L1693.1 1163.6L1682 1174.7L1670.9 1163.6Z" fill="#eee600" stroke="#000" stroke-width="3.3" stroke-linejoin="miter"/>
<path d="M1433.3 1171.6L1444.4 1182.7L1433.3 1193.8L1422.2 1182.7Z" fill="#00aeef" stroke="#000" stroke-width="3.3" stroke-linejoin="miter"/>
<path d="M1468.5 1163.9L1479.6 1175L1468.5 1186.1L1457.4 1175Z" fill="#eee600" stroke="#000" stroke-width="3.3" stroke-linejoin="miter"/>
<path d="M1600.9 1163.9L1612 1175L1600.9 1186.1L1589.8 1175Z" fill="#eee600" stroke="#000" stroke-width="3.3" stroke-linejoin="miter"/>
<path d="M1530.1 1178.5L1541.2 1189.6L1530.1 1200.7L1519 1189.6Z" fill="#c00000" stroke="#000" stroke-width="3.3" stroke-linejoin="miter"/>
<path d="M1559.5 1194.6L1570.6 1205.7L1559.5 1216.8L1548.4 1205.7Z" fill="#c00000" stroke="#000" stroke-width="3.3" stroke-linejoin="miter"/>
<path d="M1669.8 1220.2L1680.9 1231.3L1669.8 1242.4L1658.7 1231.3Z" fill="#c00000" stroke="#000" stroke-width="3.3" stroke-linejoin="miter"/>
<path d="M1502.9 1228.2L1514 1239.3L1502.9 1250.4L1491.8 1239.3Z" fill="#c00000" stroke="#000" stroke-width="3.3" stroke-linejoin="miter"/>
<path d="M1462 1237.4L1473.1 1248.5L1462 1259.6L1450.9 1248.5Z" fill="#c00000" stroke="#000" stroke-width="3.3" stroke-linejoin="miter"/>
<path d="M1427.5 1256.5L1438.6 1267.6L1427.5 1278.7L1416.4 1267.6Z" fill="#c00000" stroke="#000" stroke-width="3.3" stroke-linejoin="miter"/>
<path d="M1418.7 1271.1L1429.8 1282.2L1418.7 1293.3L1407.6 1282.2Z" fill="#c00000" stroke="#000" stroke-width="3.3" stroke-linejoin="miter"/>
<path d="M1461 1270.2L1472.1 1281.3L1461 1292.4L1449.9 1281.3Z" fill="#eee600" stroke="#000" stroke-width="3.3" stroke-linejoin="miter"/>
<path d="M1471.3 1286.2L1482.4 1297.3L1471.3 1308.4L1460.2 1297.3Z" fill="#c00000" stroke="#000" stroke-width="3.3" stroke-linejoin="miter"/>
<path d="M1597.8 1262.7L1608.9 1273.8L1597.8 1284.9L1586.7 1273.8Z" fill="#c00000" stroke="#000" stroke-width="3.3" stroke-linejoin="miter"/>
<text class="lab" transform="translate(1190.2 1046.4) scale(1 1)">i</text>
<path d="M121 1694.73H129.5M121 1664.04H129.5M121 1642.26H129.5M121 1625.37H129.5M121 1611.57H129.5M121 1599.9H129.5M121 1589.79H129.5M121 1580.88H129.5M121 1869.03H129.5M121 1838.34H129.5M121 1816.56H129.5M121 1799.67H129.5M121 1785.87H129.5M121 1774.2H129.5M121 1764.09H129.5M121 1755.18H129.5" stroke="#000" stroke-width="2.2"/>
<path d="M119 1572.9H129.5M119 1747.2H129.5M119 1921.5H129.5" stroke="#000" stroke-width="3.0"/>
<path d="M129.5 1921.5V1932M334.4 1921.5V1932M539.3 1921.5V1932" stroke="#000" stroke-width="3.0"/>
<rect x="129.5" y="1572.9" width="409.8" height="348.6" fill="none" stroke="#000" stroke-width="3.0"/>
<text class="t" x="109.7" y="1582.5" text-anchor="end">1000</text>
<text class="t" x="109.7" y="1756.8" text-anchor="end">100</text>
<text class="t" x="109.7" y="1931.1" text-anchor="end">10</text>
<text class="t" x="130.5" y="1961.5" text-anchor="middle">1</text>
<text class="t" x="335.4" y="1961.5" text-anchor="middle">100</text>
<text class="t" x="540.3" y="1961.5" text-anchor="middle">10000</text>
<text class="tx" x="148.75" y="1997.4">(Pt+Pd)/(Rh+Ru+Ir+Os) in WR</text>
<text class="tt" transform="translate(39 1747) rotate(-90)" text-anchor="middle">Se (ppm) in pentlandite</text>
<path d="M501 1696.1L512.1 1707.2L501 1718.3L489.9 1707.2Z" fill="#eee600" stroke="#000" stroke-width="3.3" stroke-linejoin="miter"/>
<path d="M418.4 1719.1L429.5 1730.2L418.4 1741.3L407.3 1730.2Z" fill="#eee600" stroke="#000" stroke-width="3.3" stroke-linejoin="miter"/>
<path d="M486.5 1727.5L497.6 1738.6L486.5 1749.7L475.4 1738.6Z" fill="#c00000" stroke="#000" stroke-width="3.3" stroke-linejoin="miter"/>
<path d="M252.3 1747.4L263.4 1758.5L252.3 1769.6L241.2 1758.5Z" fill="#00aeef" stroke="#000" stroke-width="3.3" stroke-linejoin="miter"/>
<path d="M348.7 1745.9L359.8 1757L348.7 1768.1L337.6 1757Z" fill="#c00000" stroke="#000" stroke-width="3.3" stroke-linejoin="miter"/>
<path d="M286.7 1756.2L297.8 1767.3L286.7 1778.4L275.6 1767.3Z" fill="#eee600" stroke="#000" stroke-width="3.3" stroke-linejoin="miter"/>
<path d="M377.4 1759.3L388.5 1770.4L377.4 1781.5L366.3 1770.4Z" fill="#c00000" stroke="#000" stroke-width="3.3" stroke-linejoin="miter"/>
<path d="M344.9 1777.3L356 1788.4L344.9 1799.5L333.8 1788.4Z" fill="#eee600" stroke="#000" stroke-width="3.3" stroke-linejoin="miter"/>
<path d="M289 1782.6L300.1 1793.7L289 1804.8L277.9 1793.7Z" fill="#c00000" stroke="#000" stroke-width="3.3" stroke-linejoin="miter"/>
<path d="M323.1 1788.7L334.2 1799.8L323.1 1810.9L312 1799.8Z" fill="#c00000" stroke="#000" stroke-width="3.3" stroke-linejoin="miter"/>
<path d="M279.5 1792.5L290.6 1803.6L279.5 1814.7L268.4 1803.6Z" fill="#c00000" stroke="#000" stroke-width="3.3" stroke-linejoin="miter"/>
<path d="M416.5 1791.4L427.6 1802.5L416.5 1813.6L405.4 1802.5Z" fill="#c00000" stroke="#000" stroke-width="3.3" stroke-linejoin="miter"/>
<path d="M244.3 1806.7L255.4 1817.8L244.3 1828.9L233.2 1817.8Z" fill="#c00000" stroke="#000" stroke-width="3.3" stroke-linejoin="miter"/>
<path d="M279.1 1827L290.2 1838.1L279.1 1849.2L268 1838.1Z" fill="#eee600" stroke="#000" stroke-width="3.3" stroke-linejoin="miter"/>
<path d="M238.5 1834.7L249.6 1845.8L238.5 1856.9L227.4 1845.8Z" fill="#c00000" stroke="#000" stroke-width="3.3" stroke-linejoin="miter"/>
<text class="lab" transform="translate(8.2 1547.1) scale(1 1)">j</text>
<path d="M728.2 1658.16H736.7M728.2 1637.74H736.7M728.2 1623.25H736.7M728.2 1612.01H736.7M728.2 1602.83H736.7M728.2 1595.06H736.7M728.2 1588.34H736.7M728.2 1582.41H736.7M728.2 1774.12H736.7M728.2 1753.7H736.7M728.2 1739.21H736.7M728.2 1727.98H736.7M728.2 1718.79H736.7M728.2 1711.03H736.7M728.2 1704.3H736.7M728.2 1698.37H736.7M728.2 1890.09H736.7M728.2 1869.67H736.7M728.2 1855.18H736.7M728.2 1843.94H736.7M728.2 1834.76H736.7M728.2 1827H736.7M728.2 1820.27H736.7M728.2 1814.34H736.7" stroke="#000" stroke-width="2.2"/>
<path d="M726.2 1577.1H736.7M726.2 1693.07H736.7M726.2 1809.03H736.7M726.2 1925H736.7" stroke="#000" stroke-width="3.0"/>
<path d="M736.7 1925V1935.5M941.4 1925V1935.5M1146.1 1925V1935.5" stroke="#000" stroke-width="3.0"/>
<rect x="736.7" y="1577.1" width="409.4" height="347.9" fill="none" stroke="#000" stroke-width="3.0"/>
<text class="t" x="716.9" y="1586.7" text-anchor="end">100</text>
<text class="t" x="716.9" y="1702.67" text-anchor="end">10</text>
<text class="t" x="716.9" y="1818.63" text-anchor="end">1</text>
<text class="t" x="716.9" y="1934.6" text-anchor="end">0.1</text>
<text class="t" x="737.7" y="1965" text-anchor="middle">1</text>
<text class="t" x="942.4" y="1965" text-anchor="middle">100</text>
<text class="t" x="1147.1" y="1965" text-anchor="middle">10000</text>
<text class="tx" x="760.8" y="2000.6">(Pt+Pd)/(Rh+Ru+Ir+Os) in WR</text>
<text class="tt" transform="translate(646 1751.6) rotate(-90)" text-anchor="middle">Te (ppm) in pentlandite</text>
<path d="M1106.3 1585.9L1117.4 1597L1106.3 1608.1L1095.2 1597Z" fill="#eee600" stroke="#000" stroke-width="3.3" stroke-linejoin="miter"/>
<path d="M1024.1 1616.5L1035.2 1627.6L1024.1 1638.7L1013 1627.6Z" fill="#eee600" stroke="#000" stroke-width="3.3" stroke-linejoin="miter"/>
<path d="M1093.7 1655.6L1104.8 1666.7L1093.7 1677.8L1082.6 1666.7Z" fill="#c00000" stroke="#000" stroke-width="3.3" stroke-linejoin="miter"/>
<path d="M859.5 1682.4L870.6 1693.5L859.5 1704.6L848.4 1693.5Z" fill="#00aeef" stroke="#000" stroke-width="3.3" stroke-linejoin="miter"/>
<path d="M985.4 1690L996.5 1701.1L985.4 1712.2L974.3 1701.1Z" fill="#c00000" stroke="#000" stroke-width="3.3" stroke-linejoin="miter"/>
<path d="M956.7 1716L967.8 1727.1L956.7 1738.2L945.6 1727.1Z" fill="#c00000" stroke="#000" stroke-width="3.3" stroke-linejoin="miter"/>
<path d="M928.1 1720.8L939.2 1731.9L928.1 1743L917 1731.9Z" fill="#c00000" stroke="#000" stroke-width="3.3" stroke-linejoin="miter"/>
<path d="M1024.1 1717.9L1035.2 1729L1024.1 1740.1L1013 1729Z" fill="#c00000" stroke="#000" stroke-width="3.3" stroke-linejoin="miter"/>
<path d="M894.7 1736.5L905.8 1747.6L894.7 1758.7L883.6 1747.6Z" fill="#eee600" stroke="#000" stroke-width="3.3" stroke-linejoin="miter"/>
<path d="M952.9 1758.9L964 1770L952.9 1781.1L941.8 1770Z" fill="#eee600" stroke="#000" stroke-width="3.3" stroke-linejoin="miter"/>
<path d="M888.9 1785.5L900 1796.6L888.9 1807.7L877.8 1796.6Z" fill="#c00000" stroke="#000" stroke-width="3.3" stroke-linejoin="miter"/>
<path d="M895.6 1796.8L906.7 1807.9L895.6 1819L884.5 1807.9Z" fill="#c00000" stroke="#000" stroke-width="3.3" stroke-linejoin="miter"/>
<path d="M852.8 1822.3L863.9 1833.4L852.8 1844.5L841.7 1833.4Z" fill="#c00000" stroke="#000" stroke-width="3.3" stroke-linejoin="miter"/>
<path d="M846.6 1810.5L857.7 1821.6L846.6 1832.7L835.5 1821.6Z" fill="#c00000" stroke="#000" stroke-width="3.3" stroke-linejoin="miter"/>
<path d="M887.1 1866L898.2 1877.1L887.1 1888.2L876 1877.1Z" fill="#eee600" stroke="#000" stroke-width="3.3" stroke-linejoin="miter"/>
<text class="lab" transform="translate(611.8 1552.5) scale(1 1)">k</text>
<path d="M1305.4 1694.73H1313.9M1305.4 1664.04H1313.9M1305.4 1642.26H1313.9M1305.4 1625.37H1313.9M1305.4 1611.57H1313.9M1305.4 1599.9H1313.9M1305.4 1589.79H1313.9M1305.4 1580.88H1313.9M1305.4 1869.03H1313.9M1305.4 1838.34H1313.9M1305.4 1816.56H1313.9M1305.4 1799.67H1313.9M1305.4 1785.87H1313.9M1305.4 1774.2H1313.9M1305.4 1764.09H1313.9M1305.4 1755.18H1313.9" stroke="#000" stroke-width="2.2"/>
<path d="M1303.4 1572.9H1313.9M1303.4 1747.2H1313.9M1303.4 1921.5H1313.9" stroke="#000" stroke-width="3.0"/>
<path d="M1313.9 1921.5V1932M1519 1921.5V1932M1724.1 1921.5V1932" stroke="#000" stroke-width="3.0"/>
<rect x="1313.9" y="1572.9" width="410.2" height="348.6" fill="none" stroke="#000" stroke-width="3.0"/>
<text class="t" x="1294.1" y="1582.5" text-anchor="end">10</text>
<text class="t" x="1294.1" y="1756.8" text-anchor="end">1</text>
<text class="t" x="1294.1" y="1931.1" text-anchor="end">0.1</text>
<text class="t" x="1314.9" y="1961.5" text-anchor="middle">1</text>
<text class="t" x="1520" y="1961.5" text-anchor="middle">100</text>
<text class="t" x="1725.1" y="1961.5" text-anchor="middle">10000</text>
<text class="tx" x="1338.75" y="1998.7">(Pt+Pd)/(Rh+Ru+Ir+Os) in WR</text>
<text class="tt" transform="translate(1230.9 1746.7) rotate(-90)" text-anchor="middle">In (ppm) in chalcopyrite</text>
<path d="M1598.6 1619.6L1609.7 1630.7L1598.6 1641.8L1587.5 1630.7Z" fill="#c00000" stroke="#000" stroke-width="3.3" stroke-linejoin="miter"/>
<path d="M1669.8 1628L1680.9 1639.1L1669.8 1650.2L1658.7 1639.1Z" fill="#c00000" stroke="#000" stroke-width="3.3" stroke-linejoin="miter"/>
<path d="M1533.9 1633.8L1545 1644.9L1533.9 1656L1522.8 1644.9Z" fill="#c00000" stroke="#000" stroke-width="3.3" stroke-linejoin="miter"/>
<path d="M1561.5 1646L1572.6 1657.1L1561.5 1668.2L1550.4 1657.1Z" fill="#c00000" stroke="#000" stroke-width="3.3" stroke-linejoin="miter"/>
<path d="M1504.8 1650.2L1515.9 1661.3L1504.8 1672.4L1493.7 1661.3Z" fill="#c00000" stroke="#000" stroke-width="3.3" stroke-linejoin="miter"/>
<path d="M1635.3 1678.9L1646.4 1690L1635.3 1701.1L1624.2 1690Z" fill="#c00000" stroke="#000" stroke-width="3.3" stroke-linejoin="miter"/>
<path d="M1463.1 1680.8L1474.2 1691.9L1463.1 1703L1452 1691.9Z" fill="#00aeef" stroke="#000" stroke-width="3.3" stroke-linejoin="miter"/>
<path d="M1465.7 1670.3L1476.8 1681.4L1465.7 1692.5L1454.6 1681.4Z" fill="#c00000" stroke="#000" stroke-width="3.3" stroke-linejoin="miter"/>
<path d="M1530.1 1696.9L1541.2 1708L1530.1 1719.1L1519 1708Z" fill="#eee600" stroke="#000" stroke-width="3.3" stroke-linejoin="miter"/>
<path d="M1471.5 1705.3L1482.6 1716.4L1471.5 1727.5L1460.4 1716.4Z" fill="#eee600" stroke="#000" stroke-width="3.3" stroke-linejoin="miter"/>
<path d="M1473.4 1697.4L1484.5 1708.5L1473.4 1719.6L1462.3 1708.5Z" fill="#c00000" stroke="#000" stroke-width="3.3" stroke-linejoin="miter"/>
<path d="M1428 1705.3L1439.1 1716.4L1428 1727.5L1416.9 1716.4Z" fill="#c00000" stroke="#000" stroke-width="3.3" stroke-linejoin="miter"/>
<path d="M1437.1 1707.2L1448.2 1718.3L1437.1 1729.4L1426 1718.3Z" fill="#00aeef" stroke="#000" stroke-width="3.3" stroke-linejoin="miter"/>
<path d="M1423.5 1713.3L1434.6 1724.4L1423.5 1735.5L1412.4 1724.4Z" fill="#c00000" stroke="#000" stroke-width="3.3" stroke-linejoin="miter"/>
<path d="M1603.6 1712.2L1614.7 1723.3L1603.6 1734.4L1592.5 1723.3Z" fill="#eee600" stroke="#000" stroke-width="3.3" stroke-linejoin="miter"/>
<path d="M1464.7 1768.8L1475.8 1779.9L1464.7 1791L1453.6 1779.9Z" fill="#eee600" stroke="#000" stroke-width="3.3" stroke-linejoin="miter"/>
<path d="M1685.1 1783L1696.2 1794.1L1685.1 1805.2L1674 1794.1Z" fill="#eee600" stroke="#000" stroke-width="3.3" stroke-linejoin="miter"/>
<path d="M1395.8 1793.3L1406.9 1804.4L1395.8 1815.5L1384.7 1804.4Z" fill="#2db34a" stroke="#000" stroke-width="3.3" stroke-linejoin="miter"/>
<text class="lab" transform="translate(1192 1556.4) scale(1 1)">l</text>
<path d="M127.8 2160.81H136.3M127.8 2140.33H136.3M127.8 2125.79H136.3M127.8 2114.52H136.3M127.8 2105.31H136.3M127.8 2097.52H136.3M127.8 2090.77H136.3M127.8 2084.82H136.3M127.8 2277.15H136.3M127.8 2256.66H136.3M127.8 2242.13H136.3M127.8 2230.85H136.3M127.8 2221.64H136.3M127.8 2213.85H136.3M127.8 2207.11H136.3M127.8 2201.16H136.3M127.8 2393.48H136.3M127.8 2372.99H136.3M127.8 2358.46H136.3M127.8 2347.19H136.3M127.8 2337.98H136.3M127.8 2330.19H136.3M127.8 2323.44H136.3M127.8 2317.49H136.3" stroke="#000" stroke-width="2.2"/>
<path d="M125.8 2079.5H136.3M125.8 2195.83H136.3M125.8 2312.17H136.3M125.8 2428.5H136.3" stroke="#000" stroke-width="3.0"/>
<path d="M136.3 2428.5V2439M341.45 2428.5V2439M546.6 2428.5V2439" stroke="#000" stroke-width="3.0"/>
<rect x="136.3" y="2079.5" width="410.3" height="349" fill="none" stroke="#000" stroke-width="3.0"/>
<text class="t" x="116.5" y="2089.1" text-anchor="end">10000</text>
<text class="t" x="116.5" y="2205.43" text-anchor="end">1000</text>
<text class="t" x="116.5" y="2321.77" text-anchor="end">100</text>
<text class="t" x="116.5" y="2438.1" text-anchor="end">10</text>
<text class="t" x="137.3" y="2468.5" text-anchor="middle">1</text>
<text class="t" x="342.45" y="2468.5" text-anchor="middle">100</text>
<text class="t" x="547.6" y="2468.5" text-anchor="middle">10000</text>
<text class="tx" x="157.6" y="2503.7">(Pt+Pd)/(Rh+Ru+Ir+Os) in WR</text>
<text class="tt" transform="translate(27.5 2252) rotate(-90)" text-anchor="middle">Zn (ppm) in chalcopyrite</text>
<path d="M259.6 2122.7L270.7 2133.8L259.6 2144.9L248.5 2133.8Z" fill="#eee600" stroke="#000" stroke-width="3.3" stroke-linejoin="miter"/>
<path d="M246.6 2197.3L257.7 2208.4L246.6 2219.5L235.5 2208.4Z" fill="#c00000" stroke="#000" stroke-width="3.3" stroke-linejoin="miter"/>
<path d="M351.8 2209.6L362.9 2220.7L351.8 2231.8L340.7 2220.7Z" fill="#eee600" stroke="#000" stroke-width="3.3" stroke-linejoin="miter"/>
<path d="M251.8 2217.2L262.9 2228.3L251.8 2239.4L240.7 2228.3Z" fill="#c00000" stroke="#000" stroke-width="3.3" stroke-linejoin="miter"/>
<path d="M285.7 2218.4L296.8 2229.5L285.7 2240.6L274.6 2229.5Z" fill="#00aeef" stroke="#000" stroke-width="3.3" stroke-linejoin="miter"/>
<path d="M297.9 2221.9L309 2233L297.9 2244.1L286.8 2233Z" fill="#c00000" stroke="#000" stroke-width="3.3" stroke-linejoin="miter"/>
<path d="M421.4 2219.1L432.5 2230.2L421.4 2241.3L410.3 2230.2Z" fill="#c00000" stroke="#000" stroke-width="3.3" stroke-linejoin="miter"/>
<path d="M455.9 2221.4L467 2232.5L455.9 2243.6L444.8 2232.5Z" fill="#c00000" stroke="#000" stroke-width="3.3" stroke-linejoin="miter"/>
<path d="M217.5 2230.6L228.6 2241.7L217.5 2252.8L206.4 2241.7Z" fill="#2db34a" stroke="#000" stroke-width="3.3" stroke-linejoin="miter"/>
<path d="M384.3 2229.9L395.4 2241L384.3 2252.1L373.2 2241Z" fill="#c00000" stroke="#000" stroke-width="3.3" stroke-linejoin="miter"/>
<path d="M287.1 2230.9L298.2 2242L287.1 2253.1L276 2242Z" fill="#c00000" stroke="#000" stroke-width="3.3" stroke-linejoin="miter"/>
<path d="M295.3 2233.5L306.4 2244.6L295.3 2255.7L284.2 2244.6Z" fill="#eee600" stroke="#000" stroke-width="3.3" stroke-linejoin="miter"/>
<path d="M493 2236.7L504.1 2247.8L493 2258.9L481.9 2247.8Z" fill="#c00000" stroke="#000" stroke-width="3.3" stroke-linejoin="miter"/>
<path d="M329.6 2269.3L340.7 2280.4L329.6 2291.5L318.5 2280.4Z" fill="#c00000" stroke="#000" stroke-width="3.3" stroke-linejoin="miter"/>
<path d="M506.8 2303.3L517.9 2314.4L506.8 2325.5L495.7 2314.4Z" fill="#eee600" stroke="#000" stroke-width="3.3" stroke-linejoin="miter"/>
<path d="M424.5 2311.4L435.6 2322.5L424.5 2333.6L413.4 2322.5Z" fill="#eee600" stroke="#000" stroke-width="3.3" stroke-linejoin="miter"/>
<text class="lab" transform="translate(0.6 2037.2) scale(1 1)">m</text>
<path d="M726.6 2205.01H735.1M726.6 2174.25H735.1M726.6 2152.42H735.1M726.6 2135.49H735.1M726.6 2121.66H735.1M726.6 2109.96H735.1M726.6 2099.83H735.1M726.6 2090.89H735.1M726.6 2379.71H735.1M726.6 2348.95H735.1M726.6 2327.12H735.1M726.6 2310.19H735.1M726.6 2296.36H735.1M726.6 2284.66H735.1M726.6 2274.53H735.1M726.6 2265.59H735.1" stroke="#000" stroke-width="2.2"/>
<path d="M724.6 2082.9H735.1M724.6 2257.6H735.1M724.6 2432.3H735.1" stroke="#000" stroke-width="3.0"/>
<path d="M735.1 2432.3V2442.8M940.25 2432.3V2442.8M1145.4 2432.3V2442.8" stroke="#000" stroke-width="3.0"/>
<rect x="735.1" y="2082.9" width="410.3" height="349.4" fill="none" stroke="#000" stroke-width="3.0"/>
<text class="t" x="715.3" y="2092.5" text-anchor="end">100</text>
<text class="t" x="715.3" y="2267.2" text-anchor="end">10</text>
<text class="t" x="715.3" y="2441.9" text-anchor="end">1</text>
<text class="t" x="736.1" y="2472.3" text-anchor="middle">1</text>
<text class="t" x="941.25" y="2472.3" text-anchor="middle">100</text>
<text class="t" x="1146.4" y="2472.3" text-anchor="middle">10000</text>
<text class="tx" x="758" y="2507.5">(Pt+Pd)/(Rh+Ru+Ir+Os) in WR</text>
<text class="tt" transform="translate(644 2257) rotate(-90)" text-anchor="middle">Cd (ppm) in chalcopyrite</text>
<path d="M956.6 2143.8L967.7 2154.9L956.6 2166L945.5 2154.9Z" fill="#c00000" stroke="#000" stroke-width="3.3" stroke-linejoin="miter"/>
<path d="M1095.2 2178.2L1106.3 2189.3L1095.2 2200.4L1084.1 2189.3Z" fill="#c00000" stroke="#000" stroke-width="3.3" stroke-linejoin="miter"/>
<path d="M1056.1 2180.9L1067.2 2192L1056.1 2203.1L1045 2192Z" fill="#c00000" stroke="#000" stroke-width="3.3" stroke-linejoin="miter"/>
<path d="M985.3 2187.8L996.4 2198.9L985.3 2210L974.2 2198.9Z" fill="#c00000" stroke="#000" stroke-width="3.3" stroke-linejoin="miter"/>
<path d="M1023.6 2210.7L1034.7 2221.8L1023.6 2232.9L1012.5 2221.8Z" fill="#c00000" stroke="#000" stroke-width="3.3" stroke-linejoin="miter"/>
<path d="M885.8 2241.3L896.9 2252.4L885.8 2263.5L874.7 2252.4Z" fill="#eee600" stroke="#000" stroke-width="3.3" stroke-linejoin="miter"/>
<path d="M887.8 2229.1L898.9 2240.2L887.8 2251.3L876.7 2240.2Z" fill="#c00000" stroke="#000" stroke-width="3.3" stroke-linejoin="miter"/>
<path d="M929.1 2252.8L940.2 2263.9L929.1 2275L918 2263.9Z" fill="#c00000" stroke="#000" stroke-width="3.3" stroke-linejoin="miter"/>
<path d="M952.8 2262.4L963.9 2273.5L952.8 2284.6L941.7 2273.5Z" fill="#eee600" stroke="#000" stroke-width="3.3" stroke-linejoin="miter"/>
<path d="M851.4 2268.1L862.5 2279.2L851.4 2290.3L840.3 2279.2Z" fill="#c00000" stroke="#000" stroke-width="3.3" stroke-linejoin="miter"/>
<path d="M896.2 2276.9L907.3 2288L896.2 2299.1L885.1 2288Z" fill="#c00000" stroke="#000" stroke-width="3.3" stroke-linejoin="miter"/>
<path d="M846.4 2282.7L857.5 2293.8L846.4 2304.9L835.3 2293.8Z" fill="#c00000" stroke="#000" stroke-width="3.3" stroke-linejoin="miter"/>
<path d="M1107.8 2284.2L1118.9 2295.3L1107.8 2306.4L1096.7 2295.3Z" fill="#eee600" stroke="#000" stroke-width="3.3" stroke-linejoin="miter"/>
<path d="M896.6 2314L907.7 2325.1L896.6 2336.2L885.5 2325.1Z" fill="#eee600" stroke="#000" stroke-width="3.3" stroke-linejoin="miter"/>
<path d="M1024.8 2317.9L1035.9 2329L1024.8 2340.1L1013.7 2329Z" fill="#eee600" stroke="#000" stroke-width="3.3" stroke-linejoin="miter"/>
<path d="M818.1 2324.8L829.2 2335.9L818.1 2347L807 2335.9Z" fill="#2db34a" stroke="#000" stroke-width="3.3" stroke-linejoin="miter"/>
<path d="M860.2 2337L871.3 2348.1L860.2 2359.2L849.1 2348.1Z" fill="#00aeef" stroke="#000" stroke-width="3.3" stroke-linejoin="miter"/>
<path d="M885.1 2414.3L896.2 2425.4L885.1 2436.5L874 2425.4Z" fill="#00aeef" stroke="#000" stroke-width="3.3" stroke-linejoin="miter"/>
<text class="lab" transform="translate(603.4 2064.4) scale(1 1)">n</text>
<path d="M1308.1 2161.51H1316.6M1308.1 2141.03H1316.6M1308.1 2126.49H1316.6M1308.1 2115.22H1316.6M1308.1 2106.01H1316.6M1308.1 2098.22H1316.6M1308.1 2091.47H1316.6M1308.1 2085.52H1316.6M1308.1 2277.85H1316.6M1308.1 2257.36H1316.6M1308.1 2242.83H1316.6M1308.1 2231.55H1316.6M1308.1 2222.34H1316.6M1308.1 2214.55H1316.6M1308.1 2207.81H1316.6M1308.1 2201.86H1316.6M1308.1 2394.18H1316.6M1308.1 2373.69H1316.6M1308.1 2359.16H1316.6M1308.1 2347.89H1316.6M1308.1 2338.68H1316.6M1308.1 2330.89H1316.6M1308.1 2324.14H1316.6M1308.1 2318.19H1316.6" stroke="#000" stroke-width="2.2"/>
<path d="M1306.1 2080.2H1316.6M1306.1 2196.53H1316.6M1306.1 2312.87H1316.6M1306.1 2429.2H1316.6" stroke="#000" stroke-width="3.0"/>
<path d="M1316.6 2429.2V2439.7M1521.7 2429.2V2439.7M1726.8 2429.2V2439.7" stroke="#000" stroke-width="3.0"/>
<rect x="1316.6" y="2080.2" width="410.2" height="349" fill="none" stroke="#000" stroke-width="3.0"/>
<text class="t" x="1296.8" y="2089.8" text-anchor="end">100</text>
<text class="t" x="1296.8" y="2206.13" text-anchor="end">10</text>
<text class="t" x="1296.8" y="2322.47" text-anchor="end">1</text>
<text class="t" x="1296.8" y="2438.8" text-anchor="end">0.1</text>
<text class="t" x="1317.6" y="2469.2" text-anchor="middle">1</text>
<text class="t" x="1522.7" y="2469.2" text-anchor="middle">100</text>
<text class="t" x="1727.8" y="2469.2" text-anchor="middle">10000</text>
<text class="tx" x="1340.9" y="2504.8">(Pt+Pd)/(Rh+Ru+Ir+Os) in WR</text>
<text class="tt" transform="translate(1238.9 2253.6) rotate(-90)" text-anchor="middle">Ag (ppm) in chalcopyrite</text>
<path d="M1473.5 2132.3L1484.6 2143.4L1473.5 2154.5L1462.4 2143.4Z" fill="#eee600" stroke="#000" stroke-width="3.3" stroke-linejoin="miter"/>
<path d="M1674.3 2153.3L1685.4 2164.4L1674.3 2175.5L1663.2 2164.4Z" fill="#c00000" stroke="#000" stroke-width="3.3" stroke-linejoin="miter"/>
<path d="M1533.5 2157.2L1544.6 2168.3L1533.5 2179.4L1522.4 2168.3Z" fill="#eee600" stroke="#000" stroke-width="3.3" stroke-linejoin="miter"/>
<path d="M1394.2 2173.2L1405.3 2184.3L1394.2 2195.4L1383.1 2184.3Z" fill="#2db34a" stroke="#000" stroke-width="3.3" stroke-linejoin="miter"/>
<path d="M1604.7 2176.3L1615.8 2187.4L1604.7 2198.5L1593.6 2187.4Z" fill="#eee600" stroke="#000" stroke-width="3.3" stroke-linejoin="miter"/>
<path d="M1688.9 2182L1700 2193.1L1688.9 2204.2L1677.8 2193.1Z" fill="#eee600" stroke="#000" stroke-width="3.3" stroke-linejoin="miter"/>
<path d="M1465.8 2183.2L1476.9 2194.3L1465.8 2205.4L1454.7 2194.3Z" fill="#00aeef" stroke="#000" stroke-width="3.3" stroke-linejoin="miter"/>
<path d="M1533.9 2191.6L1545 2202.7L1533.9 2213.8L1522.8 2202.7Z" fill="#c00000" stroke="#000" stroke-width="3.3" stroke-linejoin="miter"/>
<path d="M1564.1 2205L1575.2 2216.1L1564.1 2227.2L1553 2216.1Z" fill="#c00000" stroke="#000" stroke-width="3.3" stroke-linejoin="miter"/>
<path d="M1602.4 2205.8L1613.5 2216.9L1602.4 2228L1591.3 2216.9Z" fill="#c00000" stroke="#000" stroke-width="3.3" stroke-linejoin="miter"/>
<path d="M1507.9 2226.8L1519 2237.9L1507.9 2249L1496.8 2237.9Z" fill="#c00000" stroke="#000" stroke-width="3.3" stroke-linejoin="miter"/>
<path d="M1474.6 2238.3L1485.7 2249.4L1474.6 2260.5L1463.5 2249.4Z" fill="#c00000" stroke="#000" stroke-width="3.3" stroke-linejoin="miter"/>
<path d="M1438.2 2255.9L1449.3 2267L1438.2 2278.1L1427.1 2267Z" fill="#00aeef" stroke="#000" stroke-width="3.3" stroke-linejoin="miter"/>
<path d="M1466.6 2256.2L1477.7 2267.3L1466.6 2278.4L1455.5 2267.3Z" fill="#eee600" stroke="#000" stroke-width="3.3" stroke-linejoin="miter"/>
<path d="M1467.1 2260.4L1478.2 2271.5L1467.1 2282.6L1456 2271.5Z" fill="#c00000" stroke="#000" stroke-width="3.3" stroke-linejoin="miter"/>
<path d="M1636.8 2244.4L1647.9 2255.5L1636.8 2266.6L1625.7 2255.5Z" fill="#c00000" stroke="#000" stroke-width="3.3" stroke-linejoin="miter"/>
<path d="M1429.5 2292.2L1440.6 2303.3L1429.5 2314.4L1418.4 2303.3Z" fill="#c00000" stroke="#000" stroke-width="3.3" stroke-linejoin="miter"/>
<path d="M1424.9 2316L1436 2327.1L1424.9 2338.2L1413.8 2327.1Z" fill="#c00000" stroke="#000" stroke-width="3.3" stroke-linejoin="miter"/>
<text class="lab" transform="translate(1201.4 2058.7) scale(1 1)">o</text>
<rect x="329.3" y="2557.4" width="1199.3" height="87.4" fill="none" stroke="#000" stroke-width="2.6"/>
<path d="M358.4 2588.5L371 2601.1L358.4 2613.7L345.8 2601.1Z" fill="#2db34a" stroke="#000" stroke-width="3.4" stroke-linejoin="miter"/>
<text class="lg" x="492.3" y="2595.8" text-anchor="middle">Talnakh</text>
<text class="lg" x="492.3" y="2630.3" text-anchor="middle">massive sulfides</text>
<path d="M643.3 2587.4L655.9 2600L643.3 2612.6L630.7 2600Z" fill="#c00000" stroke="#000" stroke-width="3.4" stroke-linejoin="miter"/>
<text class="lg" x="772.3" y="2595.8" text-anchor="middle">Kharaelakh</text>
<text class="lg" x="772.3" y="2630.3" text-anchor="middle">massive sulfides</text>
<path d="M924.7 2586.8L937.3 2599.4L924.7 2612L912.1 2599.4Z" fill="#eee600" stroke="#000" stroke-width="3.4" stroke-linejoin="miter"/>
<text class="lg" x="1055.8" y="2595.8" text-anchor="middle">Noril’sk I</text>
<text class="lg" x="1055.8" y="2630.3" text-anchor="middle">massive sulfides</text>
<path d="M1208.7 2582.4L1221.3 2595L1208.7 2607.6L1196.1 2595Z" fill="#00aeef" stroke="#000" stroke-width="3.4" stroke-linejoin="miter"/>
<text class="lg" x="1379.6" y="2595.8" text-anchor="middle">Noril’sk I</text>
<text class="lg" x="1379.6" y="2630.3" text-anchor="middle">disseminated sulfides</text>
</svg>
</body></html>
